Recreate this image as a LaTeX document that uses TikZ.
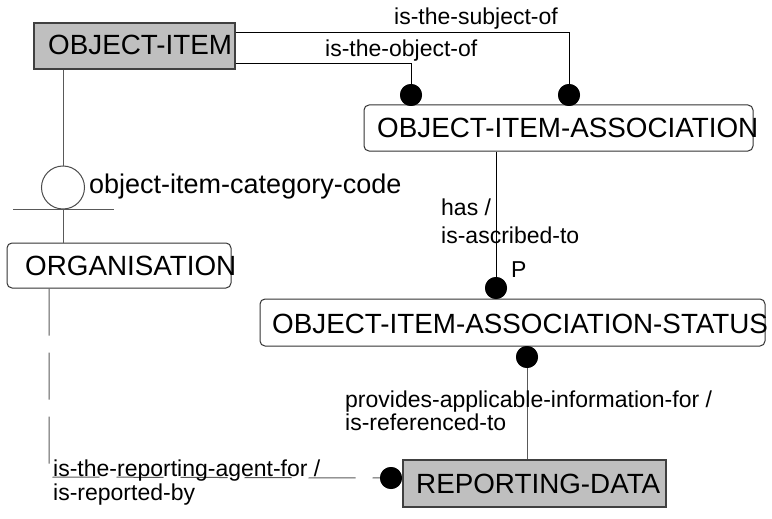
\documentclass[tikz,border=0pt]{standalone}
\usepackage{fontspec}
\setmainfont{Liberation Sans}
\begin{document}
\begin{tikzpicture}[x=1pt,y=-1pt,
  ent/.style={draw=black!80,line width=1pt,inner sep=0pt,rounded corners=5pt},
  entk/.style={draw=black!75,line width=1.2pt,fill=black!25,inner sep=0pt},
  etxt/.style={anchor=base west,inner sep=0pt,font=\fontsize{27.8}{32}\selectfont},
  ltxt/.style={anchor=base west,inner sep=0pt,font=\fontsize{23}{27}\selectfont},
  dot/.style={circle,fill=black,inner sep=0pt,minimum size=22pt},
  rel/.style={draw=black,line width=0.9pt},
  grel/.style={draw=black!65,line width=1pt},
  dashrel/.style={draw=black!65,line width=1pt,dash pattern=on 47pt off 17pt}
]
\useasboundingbox (0,0) rectangle (772,519);
% boxes
\node[entk,minimum width=201pt,minimum height=46pt] (oi) at (134.5,46) {};
\node[ent,minimum width=389pt,minimum height=46pt] (oia) at (558.5,128) {};
\node[ent,minimum width=224pt,minimum height=45pt] (org) at (119,265.5) {};
\node[ent,minimum width=505pt,minimum height=47pt] (oias) at (512.5,322.5) {};
\node[entk,minimum width=263pt,minimum height=47pt] (rd) at (534.5,483.5) {};
% entity texts
\node[etxt] (oiT) at (48,55) {OBJECT-ITEM};
\node[etxt] (oiaT) at (377,138) {OBJECT-ITEM-ASSOCIATION};
\node[etxt] (orgT) at (25,275) {ORGANISATION};
\node[etxt] (oiasT) at (272,333) {OBJECT-ITEM-ASSOCIATION-STATUS};
\node[etxt] (rdT) at (416,493) {REPORTING-DATA};
% dots and symbols
\node[dot] (d1) at (569,95) {};
\node[dot] (d2) at (411,95) {};
\node[dot] (d3) at (496,288) {};
\node[dot] (d4) at (527,357) {};
\node[dot] (d5) at (391,478) {};
\node[circle,draw=black!70,line width=1pt,minimum size=43pt,inner sep=0pt] (circ) at (63,187.5) {};
\coordinate (barL) at (13,209);
\coordinate (barR) at (114,209);
\coordinate (corner) at (49,477);
\coordinate (s1) at (0,32);
\coordinate (s2) at (0,63);
% connectors
\draw[rel] (oi.east |- s1) -| (d1.center);
\draw[rel] (oi.east |- s2) -| (d2.center);
\draw[rel] (d3 |- oia.south) -- (d3.center);
\draw[grel] (d4.center) -- (d4 |- rd.north);
\draw[grel] (circ |- oi.south) -- (circ.north);
\draw[grel] (circ.south) -- (circ.south |- org.north);
\draw[grel] (barL) -- (barR);
\draw[dashrel] (corner |- org.south) -- (corner) -- (d5.center);
% redraw dots on top
\node[dot] at (d1) {};
\node[dot] at (d2) {};
\node[dot] at (d3) {};
\node[dot] at (d4) {};
\node[dot] at (d5) {};
% labels
\node[ltxt] (l1) at (394,25) {is-the-subject-of};
\node[ltxt] (l2) at (325,57) {is-the-object-of};
\node[ltxt,font=\fontsize{27}{32}\selectfont] (l3) at (89,193) {object-item-category-code};
\node[ltxt] (l4) at (441,215) {has /};
\node[ltxt] (l5) at (441,243) {is-ascribed-to};
\node[ltxt] (l6) at (511,277) {P};
\node[ltxt] (l7) at (345,407) {provides-applicable-information-for /};
\node[ltxt] (l8) at (345,430) {is-referenced-to};
\node[ltxt] (l9) at (53,476) {is-the-reporting-agent-for /};
\node[ltxt] (l10) at (53,500) {is-reported-by};
\end{tikzpicture}
\end{document}
